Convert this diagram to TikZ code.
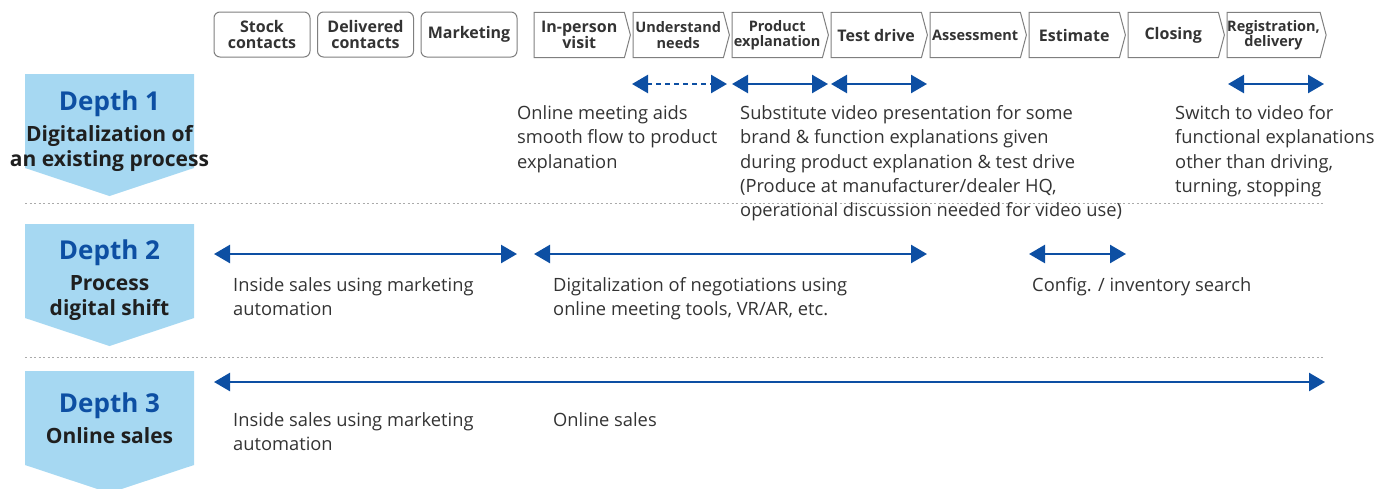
\documentclass[tikz,border=0pt]{standalone}
\usepackage{fontspec}
\setmainfont{Open Sans}
\usetikzlibrary{arrows.meta}
\definecolor{lblue}{HTML}{A6D8F2}
\definecolor{dblue}{HTML}{0D4FA3}
\definecolor{tgray}{HTML}{333333}
\definecolor{bgray}{HTML}{7F7F7F}
\definecolor{sgray}{HTML}{AAAAAA}
\begin{document}
\begin{tikzpicture}[x=1pt,y=-1pt,
  rbox/.style={draw=bgray, line width=1pt, rounded corners=6pt, fill=white, minimum width=96pt, minimum height=45pt, inner sep=0pt, font=\bfseries\fontsize{16}{16.5}\selectfont, text=tgray, align=center},
  chevtext/.style={minimum width=90pt, minimum height=45pt, inner sep=0pt, text=tgray, align=center, font=\bfseries\fontsize{16}{16.5}\selectfont},
  small/.style={font=\bfseries\fontsize{14.5}{15.5}\selectfont},
  chevline/.style={draw=bgray, line width=1pt, line join=miter},
  deptharrow/.style={fill=lblue, draw=none},
  depthtitle/.style={font=\bfseries\fontsize{26}{28}\selectfont, text=dblue, anchor=base, inner sep=0pt},
  depthsub/.style={font=\bfseries\fontsize{21}{24.5}\selectfont, text=black!88, anchor=base, align=center, inner sep=0pt},
  body/.style={font=\fontsize{18.3}{24.2}\selectfont, text=tgray, anchor=base west, align=left, inner sep=0pt},
  sep/.style={draw=sgray, line width=1pt, dash pattern=on 2pt off 2.5pt},
  barrow/.style={draw=dblue, line width=2.5pt, {Triangle[length=16pt,width=18pt]}-{Triangle[length=16pt,width=18pt]}},
]
\useasboundingbox (0,0) rectangle (1380,488);

% top rounded boxes
\node[rbox] (stock) at (262,34.5) {Stock\\contacts};
\node[rbox] (deliv) at (365.5,34.5) {Delivered\\contacts};
\node[rbox] (mkt) at (469,34.5) {Marketing};

% chevrons
\newcommand{\chev}[4]{%
  \node[chevtext, anchor=west, #4] (#1) at (#2,35) {#3};
  \draw[chevline] (#1.north west) -- (#1.north east) -- ([xshift=6pt]#1.east) -- (#1.south east) -- (#1.south west) -- cycle;}
\chev{visit}{534}{In-person\\visit}{}
\chev{needs}{633}{Understand\\needs}{small}
\chev{prod}{732}{Product\\explanation}{small}
\chev{test}{831}{Test drive}{}
\chev{assess}{930}{Assessment}{small}
\chev{est}{1029}{Estimate}{}
\chev{close}{1128}{Closing}{}
\chev{reg}{1227}{Registration,\\delivery}{small}

% depth arrows
\path[deptharrow] (25,74) -- (194,74) -- (194,168) -- (109.5,196) -- (25,168) -- cycle;
\path[deptharrow] (25,224) -- (194,224) -- (194,318) -- (109.5,346) -- (25,318) -- cycle;
\path[deptharrow] (25,371) -- (194,371) -- (194,465) -- (109.5,493) -- (25,465) -- cycle;

% (multi-line nodes: base anchor = baseline of last line)
\node[depthtitle] (d1) at (109.5,110) {Depth 1};
\node[depthsub] (d1s) at (109.5,166) {Digitalization of\\an existing process};
\node[depthtitle] (d2) at (109.5,259) {Depth 2};
\node[depthsub] (d2s) at (109.5,315) {Process\\digital shift};
\node[depthtitle] (d3) at (109.5,412) {Depth 3};
\node[depthsub] (d3s) at (109.5,443.5) {Online sales};

% separators
\coordinate (s1a) at (25,203); \coordinate (s1b) at (1325,203);
\coordinate (s2a) at (25,357); \coordinate (s2b) at (1325,357);
\draw[sep] (s1a) -- (s1b);
\draw[sep] (s2a) -- (s2b);

% row 1 arrows
\coordinate (a1a) at (632,84); \coordinate (a1b) at (727,84);
\coordinate (a2a) at (732,84); \coordinate (a2b) at (828,84);
\coordinate (a3a) at (831,84); \coordinate (a3b) at (927,84);
\coordinate (a4a) at (1228,84); \coordinate (a4b) at (1324,84);
\draw[barrow, dash pattern=on 5pt off 4pt] (a1a) -- (a1b);
\draw[barrow] (a2a) -- (a2b);
\draw[barrow] (a3a) -- (a3b);
\draw[barrow] (a4a) -- (a4b);

% row 2 arrows
\coordinate (b1a) at (214,254); \coordinate (b1b) at (517,254);
\coordinate (b2a) at (534,254); \coordinate (b2b) at (927,254);
\coordinate (b3a) at (1029,254); \coordinate (b3b) at (1126,254);
\draw[barrow] (b1a) -- (b1b);
\draw[barrow] (b2a) -- (b2b);
\draw[barrow] (b3a) -- (b3b);

% row 3 arrow
\coordinate (c1a) at (214,382); \coordinate (c1b) at (1325,382);
\draw[barrow] (c1a) -- (c1b);

% texts
\node[body] (t1) at (517,168) {Online meeting aids\\smooth flow to product\\explanation};
\node[body] (t2) at (740,216.4) {Substitute video presentation for some\\brand \& function explanations given\\during product explanation \& test drive\\(Produce at manufacturer/dealer HQ,\\operational discussion needed for video use)};
\node[body] (t3) at (1175,192.2) {Switch to video for\\functional explanations\\other than driving,\\turning, stopping};
\node[body] (t4) at (233,315.5) {Inside sales using marketing\\automation};
\node[body] (t5) at (553,315.5) {Digitalization of negotiations using\\online meeting tools, VR/AR, etc.};
\node[body] (t6) at (1032,291.3) {Config. / inventory search};
\node[body] (t7) at (233,450.5) {Inside sales using marketing\\automation};
\node[body] (t8) at (553,426.3) {Online sales};
\end{tikzpicture}
\end{document}
